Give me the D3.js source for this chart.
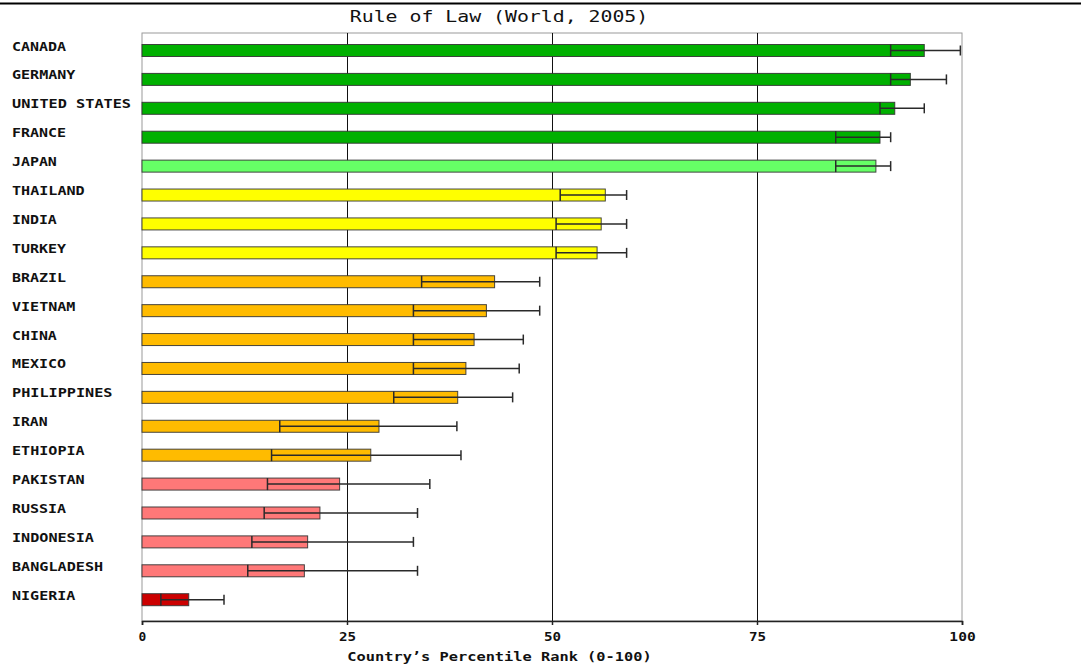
<!DOCTYPE html>
<html>
<head>
<meta charset="utf-8">
<script src="https://cdn.jsdelivr.net/npm/d3@7"></script>
<style>
  html, body { margin: 0; padding: 0; background: #fff; }
  svg { display: block; }
  .lbl { font-family: "DejaVu Sans Mono", monospace; font-weight: bold; font-size: 13px; fill: #111; }
  .title { font-family: "DejaVu Sans Mono", monospace; font-size: 16.5px; fill: #111; }
</style>
</head>
<body>
<script>
// Rule of Law percentile ranks, 2005, with margin-of-error ranges
const countries = ["CANADA", "GERMANY", "UNITED STATES", "FRANCE", "JAPAN",
  "THAILAND", "INDIA", "TURKEY", "BRAZIL", "VIETNAM", "CHINA", "MEXICO",
  "PHILIPPINES", "IRAN", "ETHIOPIA", "PAKISTAN", "RUSSIA", "INDONESIA",
  "BANGLADESH", "NIGERIA"];
const percentile = [95.4, 93.7, 91.8, 90.0, 89.5,
  56.5, 56.0, 55.5, 43.0, 42.0, 40.5, 39.5,
  38.5, 28.9, 27.9, 24.1, 21.7, 20.2,
  19.8, 5.7];
const lowerBound = [91.3, 91.3, 90.0, 84.6, 84.6,
  51.0, 50.5, 50.5, 34.1, 33.1, 33.1, 33.1,
  30.7, 16.8, 15.8, 15.3, 14.9, 13.4,
  12.9, 2.3];
const upperBound = [99.8, 98.1, 95.4, 91.3, 91.3,
  59.1, 59.1, 59.1, 48.5, 48.5, 46.5, 46.0,
  45.2, 38.4, 38.9, 35.1, 33.6, 33.1,
  33.6, 10.0];
const xTicks = [0, 25, 50, 75, 100];
const rankBreaks = [10, 25, 50, 75, 90];
const rankColors = ["#cc0000", "#ff7878", "#ffbb00", "#ffff00", "#66ff66", "#00b000"];

const W = 1081, H = 669;
const plot = { left: 142, right: 962, top: 33, bottom: 621 };
const cell = 9.27;     // character cell width of the label font
const titleCell = 12;  // character cell width of the title font

const rows = countries.map((c, i) => ({
  name: c, value: percentile[i], lo: lowerBound[i], hi: upperBound[i]
}));

const x = d3.scaleLinear().domain([0, 100]).range([plot.left, plot.right]);
const y = d3.scaleBand().domain(countries).range([36.05, 614.15]);
const color = d3.scaleThreshold().domain(rankBreaks).range(rankColors);

const svg = d3.select("body").append("svg").attr("width", W).attr("height", H);

// widen glyphs to a fixed character cell
function cellText(sel, w) {
  sel.attr("textLength", function () { return this.textContent.length * w - 1.5; })
     .attr("lengthAdjust", "spacingAndGlyphs");
}

// heavy rule across the top of the page
svg.append("line").attr("x1", 0).attr("x2", W).attr("y1", 3.5).attr("y2", 3.5)
  .attr("stroke", "#000").attr("stroke-width", 2);

svg.append("text").attr("class", "title")
  .attr("x", 499).attr("y", 22)
  .attr("text-anchor", "middle").text("Rule of Law (World, 2005)")
  .call(cellText, titleCell);

// plot frame
svg.append("rect").attr("x", plot.left).attr("y", plot.top)
  .attr("width", plot.right - plot.left).attr("height", plot.bottom - plot.top)
  .attr("fill", "#fff").attr("stroke", "#9a9a9a").attr("stroke-width", 1);

// vertical gridlines
svg.append("g").selectAll("line").data(xTicks.filter(t => t > 0 && t < 100)).join("line")
  .attr("x1", d => Math.round(x(d)) + 0.5).attr("x2", d => Math.round(x(d)) + 0.5)
  .attr("y1", plot.top).attr("y2", plot.bottom)
  .attr("stroke", "#111").attr("stroke-width", 1);

// x axis
const xAxis = svg.append("g").attr("transform", `translate(0,${plot.bottom})`)
  .call(d3.axisBottom(x).tickValues(xTicks).tickSize(4).tickPadding(5).tickFormat(d3.format("d")));
xAxis.select(".domain").attr("stroke", "#222").attr("stroke-width", 1.5);
xAxis.selectAll(".tick line").attr("stroke", "#222").attr("stroke-width", 1.5);
xAxis.selectAll(".tick text").attr("class", "lbl").attr("font-size", null).attr("font-family", null)
  .attr("fill", null).attr("dy", "0.85em").call(cellText, cell);

svg.append("text").attr("class", "lbl")
  .attr("x", 499.5).attr("y", 661)
  .attr("text-anchor", "middle").text("Country\u2019s Percentile Rank (0-100)")
  .call(cellText, cell);

// country labels
svg.append("g").selectAll("text").data(rows).join("text")
  .attr("class", "lbl").attr("x", 12)
  .attr("y", d => y(d.name) + y.bandwidth() / 2 - 3.5)
  .attr("dominant-baseline", "middle").text(d => d.name)
  .call(cellText, cell);

const barH = 12;
const g = svg.append("g").selectAll("g").data(rows).join("g")
  .attr("transform", d => `translate(0,${y(d.name) + y.bandwidth() / 2})`);

g.append("rect")
  .attr("x", x(0)).attr("y", -barH / 2)
  .attr("width", d => x(d.value) - x(0)).attr("height", barH)
  .attr("fill", d => color(d.value))
  .attr("stroke", "#333").attr("stroke-opacity", 0.9).attr("stroke-width", 1);

// error whiskers
const ec = "#2a2a2a";
g.append("line")
  .attr("x1", d => x(d.lo)).attr("x2", d => x(d.hi)).attr("y1", 0).attr("y2", 0)
  .attr("stroke", ec).attr("stroke-width", 1.5);
g.append("line")
  .attr("x1", d => x(d.lo)).attr("x2", d => x(d.lo))
  .attr("y1", -barH / 2).attr("y2", barH / 2)
  .attr("stroke", ec).attr("stroke-width", 1.5);
g.append("line")
  .attr("x1", d => x(d.hi)).attr("x2", d => x(d.hi))
  .attr("y1", -5).attr("y2", 5)
  .attr("stroke", ec).attr("stroke-width", 1.5);
</script>
</body>
</html>
